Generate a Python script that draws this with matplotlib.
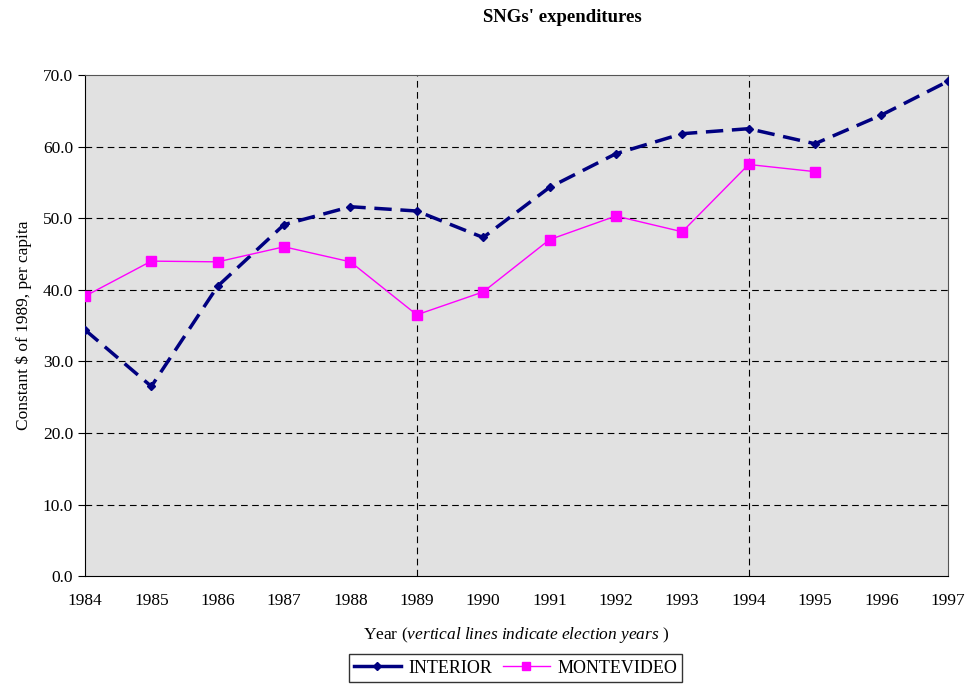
import matplotlib
matplotlib.use("Agg")
import matplotlib.pyplot as plt

years = [1984, 1985, 1986, 1987, 1988, 1989, 1990, 1991, 1992, 1993, 1994, 1995, 1996, 1997]
interior = [34.4, 26.5, 40.5, 49.1, 51.6, 51.0, 47.3, 54.3, 59.0, 61.8, 62.5, 60.4, 64.4, 69.1]
mvd_years = [1984, 1985, 1986, 1987, 1988, 1989, 1990, 1991, 1992, 1993, 1994, 1995]
montevideo = [39.1, 44.0, 43.9, 46.0, 43.9, 36.5, 39.7, 47.0, 50.3, 48.1, 57.5, 56.5]
election_years = [1989, 1994]
y_ticks = [0, 10, 20, 30, 40, 50, 60, 70]

plt.rcParams['font.family'] = 'Liberation Serif'
plt.rcParams['mathtext.fontset'] = 'custom'
plt.rcParams['mathtext.rm'] = 'Liberation Serif'
plt.rcParams['mathtext.it'] = 'Liberation Serif:italic'

fig = plt.figure(figsize=(9.69, 6.85), dpi=100)
ax = fig.add_axes([0.0877, 0.159, 0.8903, 0.7315])
ax.set_facecolor('#e1e1e1')

# grid lines
for v in y_ticks[1:-1]:
    ax.axhline(v, color='black', linestyle=(0, (6, 4)), linewidth=0.8, zorder=1)
for yr in election_years:
    ax.axvline(yr, color='black', linestyle=(0, (6, 4)), linewidth=0.8, zorder=1)

ax.plot(years, interior, color='#000080', linestyle=(0, (5, 2.5)), linewidth=2.5,
        marker='D', markersize=4.5, label='INTERIOR', zorder=3)
ax.plot(mvd_years, montevideo, color='#ff00ff', linewidth=1.0,
        marker='s', markersize=6.5, label='MONTEVIDEO', zorder=3)

ax.set_xlim(1984, 1997)
ax.set_ylim(0, 70)
ax.set_xticks(years)
ax.set_yticks(y_ticks)
ax.set_yticklabels([f"{v:.1f}" for v in y_ticks])
ax.tick_params(axis='both', labelsize=12.5, direction='out', length=5, width=0.8)
ax.tick_params(axis='x', length=0, pad=12)
for s in ax.spines.values():
    s.set_color('#555555')
    s.set_linewidth(0.8)
ax.spines['left'].set_color('black')
ax.spines['bottom'].set_color('black')

ax.set_ylabel(r'Constant \$ of 1989, per capita', fontsize=12.5, labelpad=8)
ax.set_xlabel(r"Year ($\mathit{vertical\ lines\ indicate\ election\ years}$ )", fontsize=12.5, labelpad=12)
fig.text(0.58, 0.974, "SNGs' expenditures", ha='center', va='center', fontsize=13.5, fontweight='bold')

leg = ax.legend(loc='center', bbox_to_anchor=(0.499, -0.184), ncol=2, frameon=True,
                fancybox=False, edgecolor='black', fontsize=13, handlelength=2.6,
                columnspacing=0.6, handletextpad=0.4, borderpad=0.3, markerscale=0.8)
leg.get_frame().set_linewidth(1.0)
leg.get_lines()[0].set_linestyle('-')

fig.savefig('out.png', dpi=100)
